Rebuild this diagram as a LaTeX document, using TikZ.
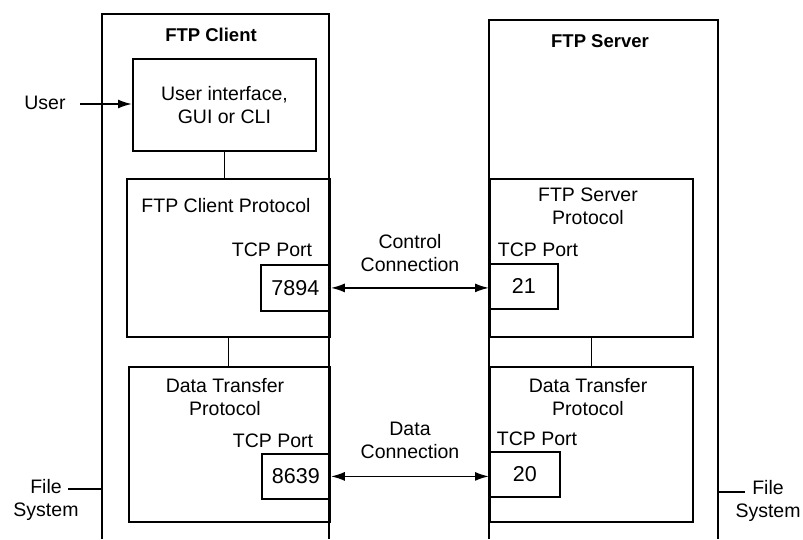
\documentclass[tikz,border=0pt]{standalone}
\usepackage{fontspec}
\setmainfont{Liberation Sans}
\usetikzlibrary{arrows.meta}
\begin{document}
\begin{tikzpicture}[x=1pt,y=-1pt,
  line width=1.8pt,
  every node/.style={font=\fontsize{19.5}{23}\selectfont, inner sep=0pt, align=center},
  box/.style={draw, anchor=north west, line width=1.8pt},
  title/.style={font=\fontsize{18.5}{23}\selectfont\bfseries},
  num/.style={font=\fontsize{21.5}{23}\selectfont},
  arr/.style={-{Latex[length=14pt,width=9pt]}},
  darr/.style={{Latex[length=14pt,width=9pt]}-{Latex[length=14pt,width=9pt]}}]
\useasboundingbox (0,0) rectangle (803,539);
% outer open boxes
\coordinate (cbl) at (102,539);
\coordinate (ctl) at (102,14);
\coordinate (ctr) at (329,14);
\coordinate (cbr) at (329,539);
\draw (cbl) -- (ctl) -- (ctr) -- (cbr);
\coordinate (sbl) at (489,539);
\coordinate (stl) at (489,20);
\coordinate (str) at (718,20);
\coordinate (sbr) at (718,539);
\draw (sbl) -- (stl) -- (str) -- (sbr);
\node[title] (ct) at (211,35) {FTP Client};
\node[title] (st) at (600,41) {FTP Server};
% client boxes
\node[box, minimum width=183pt, minimum height=92pt] (ui) at (132,58) {};
\node (uit) at (ui.center) {User interface,\\GUI or CLI};
\node[box, minimum width=203pt, minimum height=158pt] (cp) at (126,178) {};
\node[box, minimum width=201pt, minimum height=155pt] (cd) at (128,366) {};
\node[box, minimum width=69pt, minimum height=46pt] (p7894) at (260,264) {};
\node[box, minimum width=68pt, minimum height=45pt] (p8639) at (261,453) {};
% server boxes
\node[box, minimum width=203pt, minimum height=158pt] (sp) at (489,178) {};
\node[box, minimum width=203pt, minimum height=155pt] (sd) at (489,366) {};
\node[box, minimum width=68pt, minimum height=45pt] (p21) at (489,263) {};
\node[box, minimum width=70pt, minimum height=45pt] (p20) at (489,451) {};
% texts
\node (cpt) at (226,206) {FTP Client Protocol};
\node (spt) at (588,206) {FTP Server\\Protocol};
\node (cdt) at (225,397) {Data Transfer\\Protocol};
\node (sdt) at (588,397) {Data Transfer\\Protocol};
\node (tcp1) at (272,250) {TCP Port};
\node (tcp2) at (538,250) {TCP Port};
\node (tcp3) at (273,441) {TCP Port};
\node (tcp4) at (537,439) {TCP Port};
\node[num] (n7894) at (p7894.center) {7894};
\node[num] (n8639) at (p8639.center) {8639};
\node[num] (n21) at (p21.center) {21};
\node[num] (n20) at (p20.center) {20};
\node (cc) at (410,253) {Control\\Connection};
\node (dc) at (410,440) {Data\\Connection};
\node (user) at (45,103) {User};
\node (fsl) at (46,500) {File\\System};
\node (fsr) at (768,501) {File\\System};
% connectors
\draw (ui.south) -- (cp.north -| ui.south);
\draw (cp.south) -- (cd.north -| cp.south);
\draw (sp.south) -- (sd.north);
\coordinate (ua) at (80,104);
\draw[arr] (ua) -- (ui.west |- ua);
\draw[darr] (p7894.east) -- (p7894.east -| p21.west);
\draw[darr] (p8639.east) -- (p8639.east -| p20.west);
\coordinate (fla) at (68,489);
\draw (fla) -- (ctl |- fla);
\coordinate (fra) at (745,492);
\draw (str |- fra) -- (fra);
\end{tikzpicture}
\end{document}
